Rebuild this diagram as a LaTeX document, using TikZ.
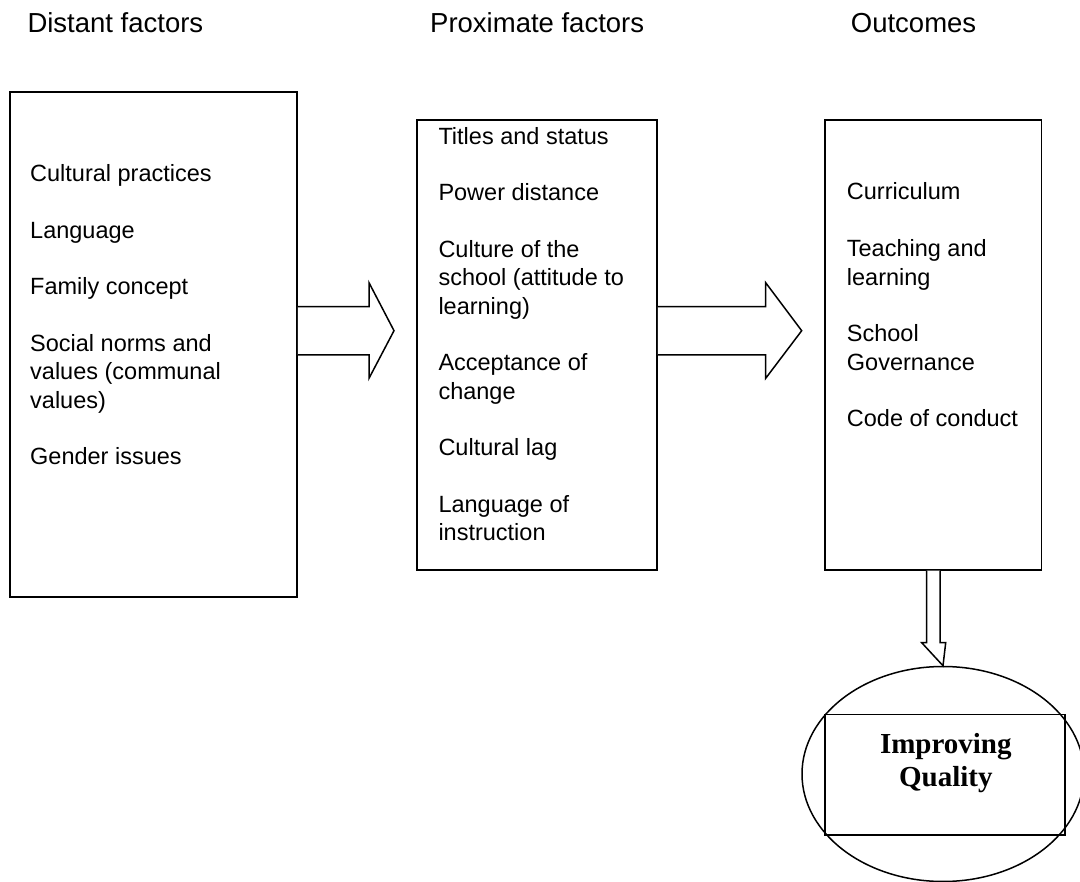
\documentclass[tikz,border=0pt]{standalone}
\usepackage{fontspec}
\setmainfont{Liberation Sans}
\newfontfamily\qserif{Liberation Serif}
\usetikzlibrary{shapes.geometric,calc}
\begin{document}
\begin{tikzpicture}[x=1pt,y=-1pt,
  boxstyle/.style={draw=black,line width=1.5pt,rectangle,inner sep=0pt},
  heading/.style={anchor=base west,inner sep=0pt,font=\fontsize{27.5}{33}\selectfont},
  bodytext/.style={anchor=base west,inner sep=0pt,align=left,font=\fontsize{23.5}{28.35}\selectfont},
  blockarrow/.style={draw=black,line width=1.5pt,fill=white,line join=miter}]
\useasboundingbox (0,0) rectangle (1080,882);
% headings
\node[heading] (h1) at (27.3,32.7) {Distant factors};
\node[heading] (h2) at (430,32.7) {Proximate factors};
\node[heading] (h3) at (850.7,32.7) {Outcomes};
% boxes
\node[boxstyle,minimum width=287pt,minimum height=505pt] (b1) at (153.5,344.3) {};
\node[boxstyle,minimum width=240pt,minimum height=450pt] (b2) at (537,345) {};
\node[boxstyle,minimum width=216.7pt,minimum height=450pt] (b3) at (933.3,345) {};
% texts (anchored at the baseline of the last line)
\node[bodytext] (t1) at (30,465) {Cultural practices\\[28.35pt]Language\\[28.35pt]Family concept\\[28.35pt]Social norms and\\values (communal\\values)\\[28.35pt]Gender issues};
\node[bodytext] (t2) at (438.3,541) {Titles and status\\[28.35pt]Power distance\\[28.35pt]Culture of the\\school (attitude to\\learning)\\[28.35pt]Acceptance of\\change\\[28.35pt]Cultural lag\\[28.35pt]Language of\\instruction};
\node[bodytext] (t3) at (846.7,426.8) {Curriculum\\[28.35pt]Teaching and\\learning\\[28.35pt]School\\Governance\\[28.35pt]Code of conduct};
% ellipse and quality box
\node[draw=black,line width=1.5pt,ellipse,inner sep=0pt,minimum width=282pt,minimum height=215pt] (el) at (943,774) {};
\node[boxstyle,minimum width=240pt,minimum height=120.7pt] (qb) at (945,774.7) {};
\node[anchor=base,inner sep=0pt,align=center,font=\qserif\bfseries\fontsize{29}{33.4}\selectfont] (qt) at (945.8,786.7) {Improving\\Quality};
% block arrows
\draw[blockarrow] (b1.east |- 0,306.7) -- (369,306.7) -- (369,282.7) -- (394,330.7) -- (369,378.3) -- (369,355) -- (b1.east |- 0,355);
\draw[blockarrow] (b2.east |- 0,306.7) -- (765.7,306.7) -- (765.7,282.7) -- (801.7,330.7) -- (765.7,378.3) -- (765.7,355) -- (b2.east |- 0,355);
\draw[blockarrow] (926.7,0 |- b3.south) -- (926.7,642.7) -- (921.7,642.7) -- (el.north) -- (945.7,642.7) -- (940,642.7) -- (940,0 |- b3.south);
\end{tikzpicture}
\end{document}
